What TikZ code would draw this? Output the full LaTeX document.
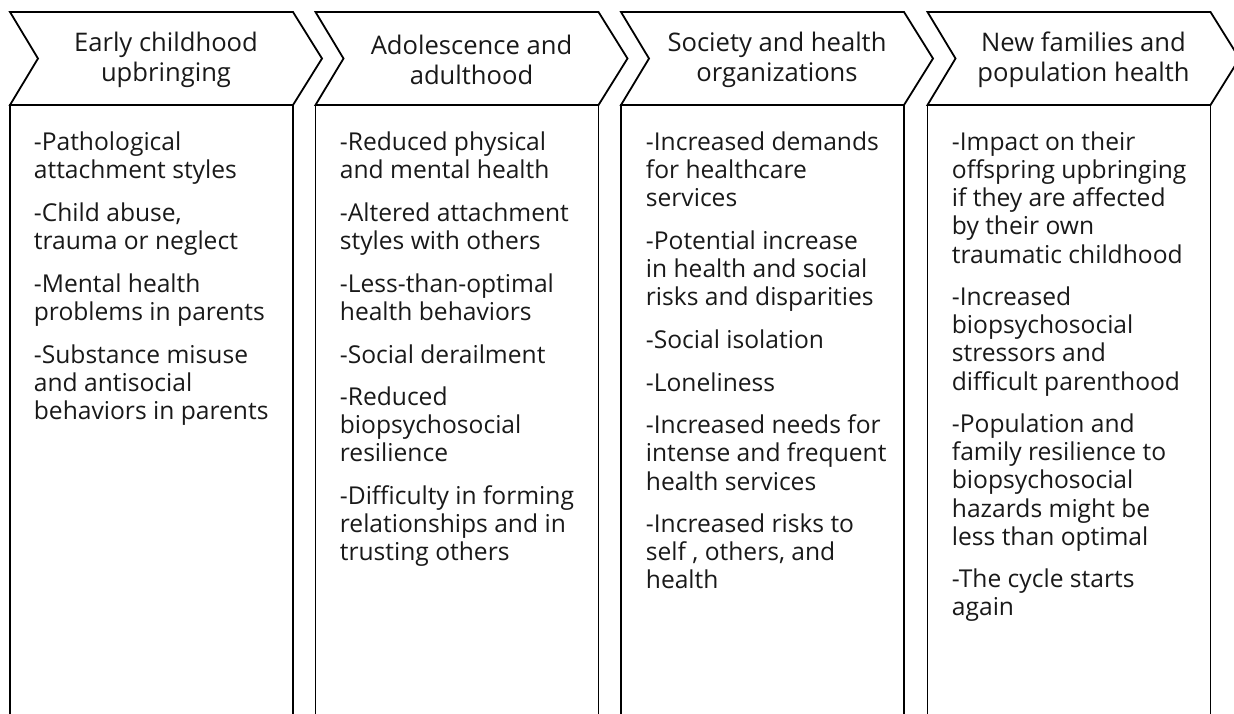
\documentclass[tikz,border=0pt]{standalone}
\usepackage{fontspec}
\setmainfont{Open Sans}
\begin{document}
\begin{tikzpicture}[x=0.5pt,y=-0.5pt,line width=0.9pt,
	head/.style={align=center,font=\fontsize{12.8}{15}\selectfont,text=black!90},
	items/.style={anchor=north west,align=left,inner sep=0pt,font=\fontsize{12.3}{14.05}\selectfont,text=black!90}]
		\useasboundingbox (0,0) rectangle (1234,713);
		% chevrons and boxes
		\foreach \L in {10,315.5,621,927.5}{
			\draw (\L,12) -- ({\L+283},12) -- ({\L+312},58.5) -- ({\L+283},105) -- (\L,105) -- ({\L+28},58.5) -- cycle;
			\draw (\L,720) -- (\L,105) -- ({\L+283},105) -- ({\L+283},720);
		}
		\node[head] (hd1) at (166,60) {Early childhood\\upbringing};
		\node[head] (hd2) at (471.5,60) {Adolescence and\\adulthood};
		\node[head] (hd3) at (777,60) {Society and health\\organizations};
		\node[head] (hd4) at (1083.5,60) {New families and\\population health};
		% lists
		\node[items] (lst1) at (33,131) {-Pathological\\attachment styles\\[7.3pt]
			-Child abuse,\\trauma or neglect\\[7.3pt]
			-Mental health\\problems in parents\\[7.3pt]
			-Substance misuse\\and antisocial\\behaviors in parents};
		\node[items] (lst2) at (339,131) {-Reduced physical\\and mental health\\[7.3pt]
			-Altered attachment\\styles with others\\[7.3pt]
			-Less-than-optimal\\health behaviors\\[7.3pt]
			-Social derailment\\[7.3pt]
			-Reduced\\biopsychosocial\\resilience\\[7.3pt]
			-Difficulty in forming\\relationships and in\\trusting others};
		\node[items] (lst3) at (645,131) {-Increased demands\\for healthcare\\services\\[7.3pt]
			-Potential increase\\in health and social\\risks and disparities\\[7.3pt]
			-Social isolation\\[7.3pt]
			-Loneliness\\[7.3pt]
			-Increased needs for\\intense and frequent\\health services\\[7.3pt]
			-Increased risks to\\self , others, and\\health};
		\node[items] (lst4) at (951,131) {-Impact on their\\offspring upbringing\\if they are affected\\by their own\\traumatic childhood\\[7.3pt]
			-Increased\\biopsychosocial\\stressors and\\difficult parenthood\\[7.3pt]
			-Population and\\family resilience to\\biopsychosocial\\hazards might be\\less than optimal\\[7.3pt]
			-The cycle starts\\again};
		\end{tikzpicture}
\end{document}
